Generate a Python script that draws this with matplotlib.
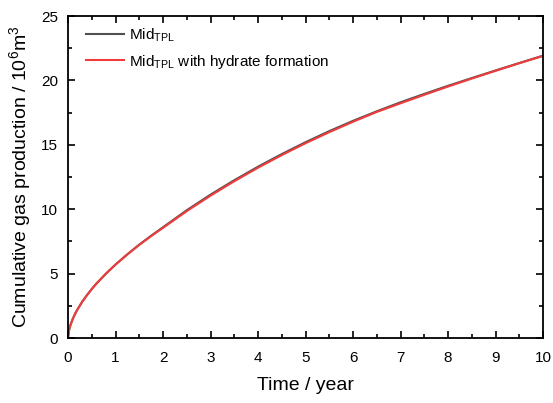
import matplotlib
matplotlib.use("Agg")
import matplotlib.pyplot as plt
from matplotlib.ticker import MultipleLocator

plt.rcParams['font.family'] = ['Liberation Sans', 'DejaVu Sans']
plt.rcParams['mathtext.fontset'] = 'custom'
plt.rcParams['mathtext.rm'] = 'Liberation Sans'

# time in years
years = [0, 0.02, 0.05, 0.1, 0.15, 0.2, 0.3, 0.4, 0.5, 0.6, 0.8, 1.0, 1.25, 1.5, 1.75,
         2.0, 2.5, 3.0, 3.5, 4.0, 4.5, 5.0, 5.5, 6.0, 6.5, 7.0, 7.5, 8.0, 8.5, 9.0, 9.5, 10.0]
# cumulative gas production, 10^6 m^3
mid_tpl = [0, 0.58, 0.99, 1.48, 1.88, 2.22, 2.82, 3.33, 3.8, 4.23, 5.0, 5.7, 6.5, 7.25, 7.94,
           8.6, 9.92, 11.13, 12.25, 13.3, 14.28, 15.2, 16.06, 16.86, 17.6, 18.3, 18.95, 19.58, 20.18, 20.77, 21.35, 21.92]
mid_tpl_hydrate = [0, 0.58, 0.99, 1.48, 1.88, 2.22, 2.82, 3.33, 3.8, 4.23, 5.0, 5.7, 6.49, 7.23, 7.91,
                   8.55, 9.85, 11.05, 12.17, 13.22, 14.2, 15.12, 15.98, 16.79, 17.55, 18.22, 18.88, 19.52, 20.14, 20.74, 21.33, 21.9]

fig = plt.figure(figsize=(5.53, 4.03), dpi=100)
ax = fig.add_axes([68 / 553, 1 - 338 / 403, 475 / 553, 322 / 403])

ax.plot(years, mid_tpl, color='#505050', lw=1.5, label=r'Mid$_{\mathrm{TPL}}$')
ax.plot(years, mid_tpl_hydrate, color='#f03c3c', lw=1.5, label=r'Mid$_{\mathrm{TPL}}$ with hydrate formation')

ax.set_xlim(0, 10)
ax.set_ylim(0, 25)
ax.xaxis.set_major_locator(MultipleLocator(1))
ax.xaxis.set_minor_locator(MultipleLocator(0.5))
ax.yaxis.set_major_locator(MultipleLocator(5))
ax.yaxis.set_minor_locator(MultipleLocator(2.5))
ax.tick_params(which='both', direction='in', top=True, right=True, width=1.2, labelsize=11, colors='black')
ax.tick_params(which='major', length=5)
ax.tick_params(which='minor', length=3)
ax.tick_params(axis='x', which='major', pad=9)
ax.tick_params(axis='y', which='major', pad=7)
for s in ax.spines.values():
    s.set_linewidth(1.3)

ax.set_xlabel('Time / year', fontsize=14, labelpad=9)
ax.set_ylabel(r'Cumulative gas production / 10$^6$m$^3$', fontsize=14, labelpad=5)

ax.legend(loc='upper left', bbox_to_anchor=(0.032, 0.978), frameon=False, fontsize=11,
          handlelength=2.5, handletextpad=0.3, borderaxespad=0, borderpad=0.2,
          labelspacing=0.58)

fig.savefig('out.png', dpi=100)
